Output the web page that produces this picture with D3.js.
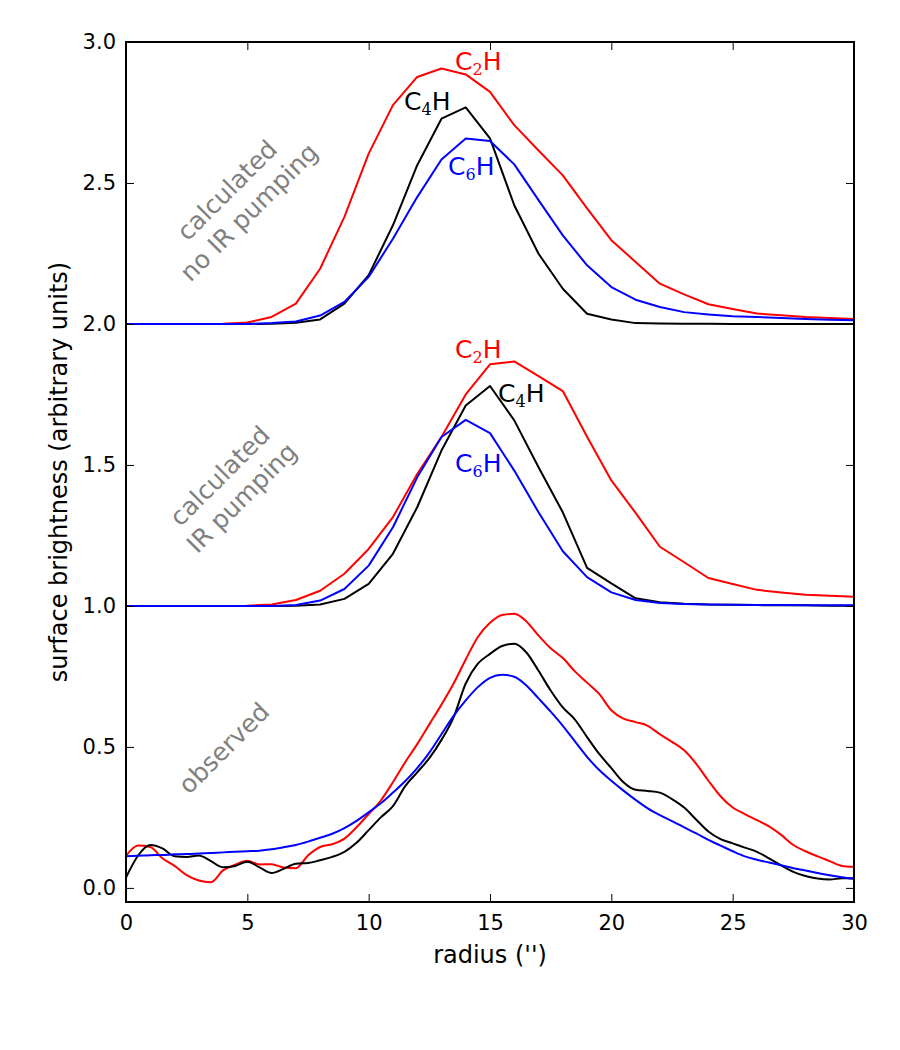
<!DOCTYPE html>
<html>
<head>
<meta charset="utf-8">
<script src="https://cdn.jsdelivr.net/npm/d3@7"></script>
<style>
  body { margin: 0; background: #fff; }
  svg text { font-family: "DejaVu Sans", sans-serif; }
</style>
</head>
<body>
<div id="container"></div>
<script>
// calculated profiles, sampled at integer radii (offsets 2.0 and 1.0 already included)
const radiusCalc = d3.range(0, 31);

const noPumpC2H = [2.000, 2.000, 2.000, 2.000, 2.001, 2.005, 2.025, 2.072, 2.196, 2.380, 2.604, 2.776, 2.876, 2.906, 2.885, 2.823,
  2.705, 2.615, 2.527, 2.410, 2.297, 2.220, 2.143, 2.105, 2.070, 2.053, 2.037, 2.031, 2.025, 2.021, 2.018];
const noPumpC4H = [2.000, 2.000, 2.000, 2.000, 2.000, 2.000, 2.001, 2.004, 2.016, 2.072, 2.173, 2.350, 2.563, 2.728, 2.768, 2.658,
  2.421, 2.249, 2.125, 2.036, 2.016, 2.003, 2.002, 2.001, 2.001, 2.000, 2.000, 2.000, 2.000, 2.000, 2.000];
const noPumpC6H = [2.000, 2.000, 2.000, 2.000, 2.000, 2.000, 2.003, 2.009, 2.030, 2.078, 2.167, 2.302, 2.450, 2.583, 2.658, 2.649,
  2.566, 2.439, 2.314, 2.208, 2.131, 2.086, 2.060, 2.042, 2.034, 2.027, 2.025, 2.021, 2.018, 2.015, 2.013];

const pumpC2H = [1.000, 1.000, 1.000, 1.000, 1.000, 1.001, 1.005, 1.021, 1.054, 1.114, 1.202, 1.315, 1.468, 1.599, 1.750, 1.857,
  1.867, 1.815, 1.762, 1.600, 1.445, 1.330, 1.210, 1.155, 1.099, 1.078, 1.057, 1.048, 1.040, 1.036, 1.033];
const pumpC4H = [1.000, 1.000, 1.000, 1.000, 1.000, 1.000, 1.000, 1.001, 1.005, 1.025, 1.078, 1.185, 1.350, 1.551, 1.711, 1.780,
  1.658, 1.492, 1.332, 1.135, 1.080, 1.027, 1.013, 1.008, 1.005, 1.004, 1.003, 1.002, 1.002, 1.001, 1.001];
const pumpC6H = [1.000, 1.000, 1.000, 1.000, 1.000, 1.000, 1.000, 1.003, 1.019, 1.060, 1.143, 1.279, 1.456, 1.599, 1.660, 1.613,
  1.480, 1.332, 1.194, 1.102, 1.048, 1.021, 1.010, 1.007, 1.005, 1.004, 1.003, 1.003, 1.002, 1.002, 1.002];

// observed profiles, read every 0.5"
const radiusObs = d3.range(0, 30.01, 0.5);

const obsC2H = [0.114, 0.150, 0.145, 0.105, 0.078, 0.045, 0.026, 0.020, 0.062, 0.082, 0.096, 0.083, 0.084, 0.072, 0.070, 0.115,
  0.145, 0.155, 0.175, 0.215, 0.262, 0.310, 0.375, 0.445, 0.510, 0.580, 0.650, 0.725, 0.810, 0.890, 0.940, 0.968,
  0.972, 0.945, 0.895, 0.850, 0.815, 0.768, 0.728, 0.688, 0.630, 0.600, 0.588, 0.575, 0.545, 0.518, 0.488, 0.440,
  0.380, 0.325, 0.285, 0.262, 0.240, 0.218, 0.188, 0.152, 0.130, 0.112, 0.095, 0.078, 0.075];
const obsC4H = [0.037, 0.115, 0.152, 0.140, 0.112, 0.110, 0.115, 0.095, 0.073, 0.078, 0.093, 0.073, 0.053, 0.068, 0.086, 0.088,
  0.098, 0.110, 0.128, 0.160, 0.205, 0.250, 0.290, 0.360, 0.410, 0.460, 0.525, 0.605, 0.725, 0.795, 0.830, 0.858,
  0.866, 0.835, 0.770, 0.700, 0.640, 0.597, 0.535, 0.475, 0.425, 0.375, 0.348, 0.344, 0.338, 0.315, 0.285, 0.242,
  0.200, 0.173, 0.158, 0.143, 0.128, 0.105, 0.080, 0.057, 0.042, 0.033, 0.030, 0.034, 0.034];
const obsC6H = [0.112, 0.114, 0.116, 0.117, 0.119, 0.120, 0.122, 0.124, 0.126, 0.128, 0.130, 0.132, 0.137, 0.144, 0.152, 0.164,
  0.178, 0.192, 0.212, 0.238, 0.268, 0.300, 0.338, 0.378, 0.425, 0.480, 0.545, 0.610, 0.665, 0.712, 0.745, 0.756,
  0.749, 0.718, 0.672, 0.625, 0.575, 0.520, 0.465, 0.418, 0.380, 0.345, 0.312, 0.282, 0.258, 0.237, 0.215, 0.193,
  0.170, 0.150, 0.130, 0.112, 0.100, 0.090, 0.080, 0.070, 0.062, 0.053, 0.045, 0.038, 0.032];

const xTicks = [0, 5, 10, 15, 20, 25, 30];
const yTicks = [0.0, 0.5, 1.0, 1.5, 2.0, 2.5, 3.0];

// molecule labels: colour, subscript, radius, brightness
const molLabels = [
  { c: "red",   sub: "2", x: 13.56, y: 2.900 },
  { c: "black", sub: "4", x: 11.46, y: 2.759 },
  { c: "blue",  sub: "6", x: 13.27, y: 2.528 },
  { c: "red",   sub: "2", x: 13.56, y: 1.879 },
  { c: "black", sub: "4", x: 15.33, y: 1.723 },
  { c: "blue",  sub: "6", x: 13.56, y: 1.475 }
];
const panelLabels = [
  { lines: ["calculated", "no IR pumping"], x: 4.62, y: 2.435 },
  { lines: ["calculated", "IR pumping"],    x: 4.32, y: 1.422 },
  { lines: ["observed"],                   x: 4.04, y: 0.495 }
];

// layout
const W = 900, H = 1050;
const m = { top: 42, right: 46, bottom: 148, left: 126 };
const w = W - m.left - m.right,
      h = H - m.top - m.bottom;

const svg = d3.select("#container").append("svg")
  .attr("width", W).attr("height", H);
svg.append("rect").attr("width", W).attr("height", H).attr("fill", "#fff");

const g = svg.append("g").attr("transform", `translate(${m.left},${m.top})`);

const x = d3.scaleLinear().domain([0, 30]).range([0, w]);
const y = d3.scaleLinear().domain([-0.05, 3.0]).range([h, 0]);

const calcLine = d3.line().x((d, i) => x(radiusCalc[i])).y(d => y(d));
const obsLine = d3.line().x((d, i) => x(radiusObs[i])).y(d => y(d)).curve(d3.curveMonotoneX);

const series = [
  { v: noPumpC2H, c: "red", f: calcLine }, { v: noPumpC4H, c: "black", f: calcLine }, { v: noPumpC6H, c: "blue", f: calcLine },
  { v: pumpC2H, c: "red", f: calcLine },   { v: pumpC4H, c: "black", f: calcLine },   { v: pumpC6H, c: "blue", f: calcLine },
  { v: obsC2H, c: "red", f: obsLine },     { v: obsC4H, c: "black", f: obsLine },     { v: obsC6H, c: "blue", f: obsLine }
];

g.selectAll("path.series")
  .data(series)
  .enter()
  .append("path")
  .attr("class", "series")
  .attr("fill", "none")
  .attr("stroke", d => d.c)
  .attr("stroke-width", 2)
  .attr("stroke-linejoin", "round")
  .attr("d", d => d.f(d.v));

// molecule names with subscripts
molLabels.forEach(l => {
  const t = g.append("text")
    .attr("x", x(l.x)).attr("y", y(l.y))
    .attr("fill", l.c)
    .style("font-size", "25px");
  t.append("tspan").text("C");
  t.append("tspan").attr("dy", 5).style("font-family", "'DejaVu Serif', serif").style("font-size", "16px").text(l.sub);
  t.append("tspan").attr("dy", -5).text("H");
});

// rotated grey panel labels
panelLabels.forEach(p => {
  const lg = g.append("g").attr("transform", `translate(${x(p.x)},${y(p.y)}) rotate(-45)`);
  const n = p.lines.length;
  p.lines.forEach((s, i) => {
    lg.append("text")
      .attr("x", 0)
      .attr("y", (i - (n - 1) / 2) * 31)
      .attr("text-anchor", "middle")
      .attr("dominant-baseline", "central")
      .attr("fill", "#808080")
      .style("font-size", "25px")
      .text(s);
  });
});

// axes, ticks pointing inward on all four sides
const fmt = d3.format(".1f");
g.append("g").attr("transform", `translate(0,${h})`)
  .call(d3.axisBottom(x).tickValues(xTicks).tickSize(-8).tickPadding(13).tickFormat(d3.format("d")));
g.append("g")
  .call(d3.axisLeft(y).tickValues(yTicks).tickSize(-8).tickPadding(10).tickFormat(fmt));
g.append("g").call(d3.axisTop(x).tickValues(xTicks).tickSize(-8).tickFormat(""));
g.append("g").attr("transform", `translate(${w},0)`)
  .call(d3.axisRight(y).tickValues(yTicks).tickSize(-8).tickFormat(""));

g.selectAll(".domain").remove();
g.selectAll(".tick line").attr("stroke", "#000").attr("stroke-width", 1);
g.selectAll(".tick text")
  .attr("fill", "#000")
  .style("font-family", "'DejaVu Sans', sans-serif")
  .style("font-size", "21px");

// frame
g.append("rect")
  .attr("width", w).attr("height", h)
  .attr("fill", "none").attr("stroke", "#000").attr("stroke-width", 2);

// axis titles
g.append("text")
  .attr("x", w / 2).attr("y", h + 61)
  .attr("text-anchor", "middle")
  .style("font-size", "24px")
  .text("radius ('')");

g.append("text")
  .attr("transform", `translate(${-59},${h / 2}) rotate(-90)`)
  .attr("text-anchor", "middle")
  .style("font-size", "24px")
  .text("surface brightness (arbitrary units)");
</script>
</body>
</html>
